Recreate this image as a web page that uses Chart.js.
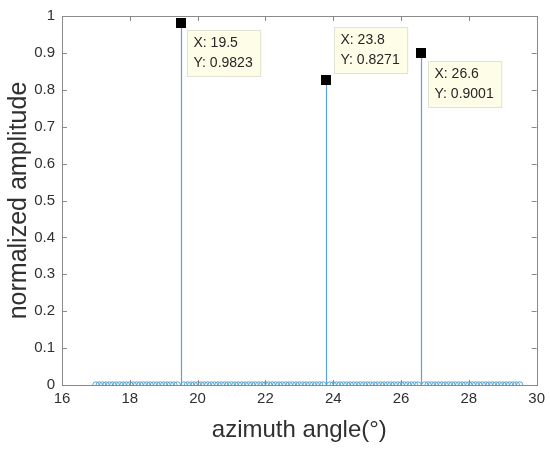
<!DOCTYPE html>
<html>
<head>
<meta charset="utf-8">
<script src="https://cdn.jsdelivr.net/npm/chart.js@4"></script>
<style>
  html, body { margin: 0; padding: 0; background: #fff; }
  #wrap { width: 550px; height: 449px; }
</style>
</head>
<body>
<div id="wrap"><canvas id="c" width="550" height="449"></canvas></div>
<script>
// scan grid: 17 to 29.5 deg, 0.1 deg step
var angleStart = 17, angleEnd = 29.5, angleStep = 0.1;
var peakAngles = [19.5, 23.8, 26.6];
var peakValues = [0.9823, 0.8271, 0.9001];
var xTicks = [16, 18, 20, 22, 24, 26, 28, 30];
var yTicks = [0, 0.1, 0.2, 0.3, 0.4, 0.5, 0.6, 0.7, 0.8, 0.9, 1];
// datatip box offsets (px) relative to the marked point
var tipOffsets = [[6, 7], [8, -53], [7, 8]];

var points = [];
var n = Math.round((angleEnd - angleStart) / angleStep);
for (var i = 0; i <= n; i++) {
    var a = +(angleStart + i * angleStep).toFixed(1);
    var v = 0;
    var k = peakAngles.indexOf(a);
    if (k >= 0) v = peakValues[k];
    points.push({x: a, y: v});
}

var stemColor = 'rgb(90,165,210)';
var axisColor = '#8a8a8a';
var textColor = '#303030';
var fontFam = '"Liberation Sans", Arial, sans-serif';

var stemPlugin = {
    id: 'stems',
    beforeDatasetsDraw: function(chart) {
        var ctx = chart.ctx, xs = chart.scales.x, ys = chart.scales.y;
        ctx.save();
        ctx.strokeStyle = stemColor;
        ctx.lineWidth = 1.2;
        points.forEach(function(p) {
            if (p.y === 0) return;
            var px = Math.round(xs.getPixelForValue(p.x)) + 0.5;
            ctx.beginPath();
            ctx.moveTo(px, ys.getPixelForValue(0));
            ctx.lineTo(px, ys.getPixelForValue(p.y));
            ctx.stroke();
        });
        ctx.restore();
    }
};

var framePlugin = {
    id: 'frame',
    afterDraw: function(chart) {
        var ctx = chart.ctx, a = chart.chartArea, xs = chart.scales.x, ys = chart.scales.y;
        ctx.save();
        ctx.strokeStyle = axisColor;
        ctx.lineWidth = 1;
        ctx.strokeRect(Math.round(a.left) + 0.5, Math.round(a.top) + 0.5,
            Math.round(a.right - a.left), Math.round(a.bottom - a.top));
        var tl = 5;
        ctx.beginPath();
        xTicks.forEach(function(t) {
            var px = Math.round(xs.getPixelForValue(t)) + 0.5;
            ctx.moveTo(px, a.bottom); ctx.lineTo(px, a.bottom - tl);
            ctx.moveTo(px, a.top); ctx.lineTo(px, a.top + tl);
        });
        yTicks.forEach(function(t) {
            var py = Math.round(ys.getPixelForValue(t)) + 0.5;
            ctx.moveTo(a.left, py); ctx.lineTo(a.left + tl, py);
            ctx.moveTo(a.right, py); ctx.lineTo(a.right - tl, py);
        });
        ctx.stroke();

        // data tips
        ctx.font = '14px ' + fontFam;
        ctx.textBaseline = 'middle';
        peakAngles.forEach(function(x, i) {
            var px = xs.getPixelForValue(x), py = ys.getPixelForValue(peakValues[i]);
            ctx.fillStyle = '#000';
            ctx.fillRect(Math.round(px) - 5, Math.round(py) - 5, 10, 10);
            var bx = Math.round(px + tipOffsets[i][0]) + 0.5;
            var by = Math.round(py + tipOffsets[i][1]) + 0.5;
            var l1 = 'X: ' + x.toFixed(1), l2 = 'Y: ' + peakValues[i].toFixed(4);
            var w = Math.max(ctx.measureText(l1).width, ctx.measureText(l2).width) + 14;
            ctx.fillStyle = '#fdfde8';
            ctx.fillRect(bx, by, w, 46);
            ctx.strokeStyle = '#e2e2d2';
            ctx.strokeRect(bx, by, w, 46);
            ctx.fillStyle = '#262626';
            ctx.fillText(l1, bx + 6, by + 13);
            ctx.fillText(l2, bx + 6, by + 33);
        });
        ctx.restore();
    }
};

new Chart(document.getElementById('c'), {
    type: 'scatter',
    data: {
        datasets: [{
            data: points,
            pointStyle: 'circle',
            pointRadius: 3.2,
            pointBorderWidth: 1,
            pointBorderColor: stemColor,
            pointBackgroundColor: 'rgba(0,0,0,0)',
            showLine: false
        }]
    },
    options: {
        responsive: false,
        animation: false,
        layout: { padding: { left: 0, right: 9, top: 13, bottom: 0 } },
        plugins: { legend: { display: false }, tooltip: { enabled: false } },
        scales: {
            x: {
                type: 'linear', min: 16, max: 30,
                afterBuildTicks: function(s) { s.ticks = xTicks.map(function(v) { return {value: v}; }); },
                afterFit: function(s) { s.height = 64; },
                grid: { display: false, drawTicks: false },
                border: { display: false },
                ticks: { color: textColor, font: { size: 15, family: fontFam }, padding: 5, maxRotation: 0,
                    callback: function(v) { return String(v); } },
                title: { display: true, text: 'azimuth angle(°)', color: textColor,
                    font: { size: 24, family: fontFam }, padding: { top: 2 } }
            },
            y: {
                min: 0, max: 1,
                afterBuildTicks: function(s) { s.ticks = yTicks.map(function(v) { return {value: v}; }); },
                afterFit: function(s) { s.width = 62; },
                grid: { display: false, drawTicks: false },
                border: { display: false },
                ticks: { color: textColor, font: { size: 15, family: fontFam }, padding: 7,
                    callback: function(v) { return String(+v.toFixed(1)); } },
                title: { display: true, text: 'normalized amplitude', color: textColor,
                    font: { size: 25, family: fontFam }, padding: { bottom: 0 } }
            }
        }
    },
    plugins: [stemPlugin, framePlugin]
});
</script>
</body>
</html>
